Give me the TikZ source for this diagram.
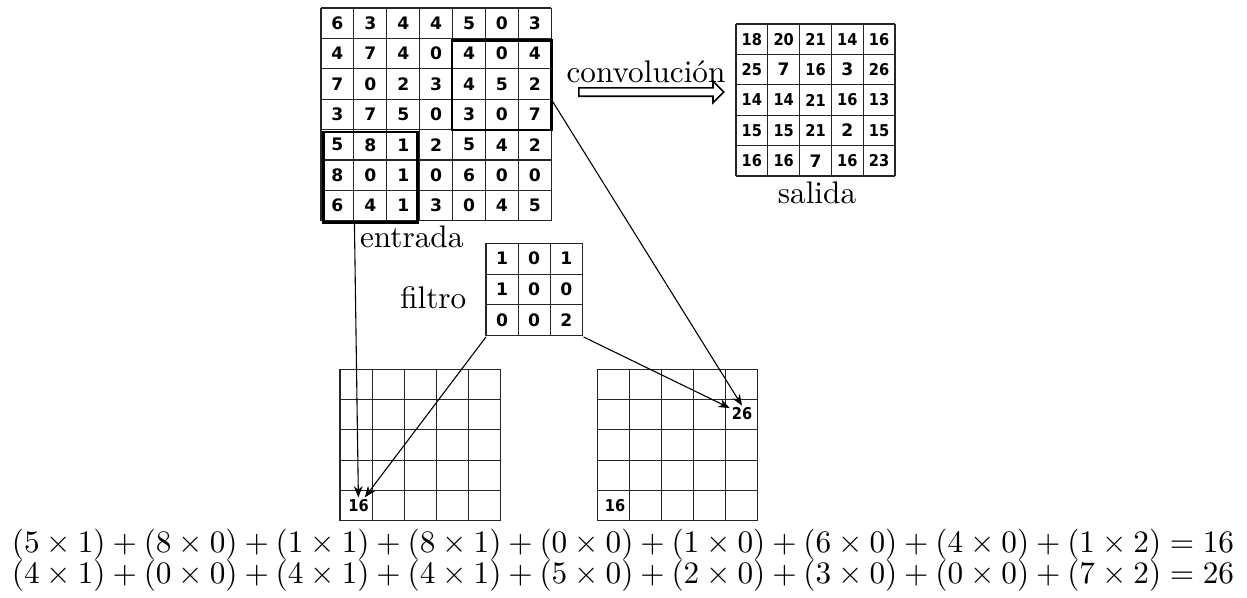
\documentclass[tikz,border=0pt]{standalone}
\usepackage{fontspec}
\newfontfamily\numfont{DejaVu Sans}
\newfontfamily\numfontc{DejaVu Sans}[FakeStretch=0.9]
\usetikzlibrary{calc,arrows.meta,shapes.arrows}
\def\px{0.32pt}
\newcommand{\mygrid}[6]{% x0, y0, cols, rows, w, h
  \foreach \i in {0,...,#3} \draw[gridline] ({#1+\i*#5},#2) -- ++(0,{#4*#6});
  \foreach \j in {0,...,#4} \draw[gridline] (#1,{#2+\j*#6}) -- ++({#3*#5},0);
}
\newcommand{\numtxt}[1]{\ifnum#1>9 \numfontc\bfseries\fontsize{5.2}{6}\selectfont\fi #1}
\begin{document}
\begin{tikzpicture}[x=0.32pt,y=-0.32pt,
  gridline/.style={line width=0.35pt, black!85},
  hbox/.style={draw, line width=0.9pt, inner sep=0pt, anchor=north west},
  num/.style={font=\numfont\bfseries\fontsize{5.5}{6}\selectfont, inner sep=0.5pt},
  lab/.style={font=\fontsize{10}{12}\selectfont, anchor=base, inner sep=0pt},
  conn/.style={line width=0.35pt, -{Stealth[length=3.6pt,width=2.8pt]}},
]
\useasboundingbox (0,0) rectangle (1247,598);

% input grid
\mygrid{321}{8}{7}{7}{32.9}{30.4}
\foreach \row [count=\r from 0] in {{6,3,4,4,5,0,3},{4,7,4,0,4,0,4},{7,0,2,3,4,5,2},{3,7,5,0,3,0,7},{5,8,1,2,5,4,2},{8,0,1,0,6,0,0},{6,4,1,3,0,4,5}}
  \foreach \v [count=\c from 0] in \row
    \node[num] (in-\r-\c) at ({321+(\c+0.5)*32.9},{8+(\r+0.5)*30.4}) {\v};
\node[hbox, minimum width={94*\px}, minimum height={90.2*\px}] (boxA) at (322,130.6) {};
\node[hbox, minimum width={99.5*\px}, minimum height={89.5*\px}] (boxB) at (450.5,39) {};
\node[lab] (entrada) at (411.7,247) {entrada};

% output grid
\mygrid{736}{24}{5}{5}{31.8}{30.4}
\foreach \row [count=\r from 0] in {{18,20,21,14,16},{25,7,16,3,26},{14,14,21,16,13},{15,15,21,2,15},{16,16,7,16,23}}
  \foreach \v [count=\c from 0] in \row
    \node[num] (out-\r-\c) at ({736+(\c+0.5)*31.8},{24+(\r+0.5)*30.4}) {\numtxt{\v}};
\node[lab] (salida) at (817,203) {salida};

% convolution arrow
\node[lab] (convlab) at (646,82.7) {convolución};
\node[single arrow, draw, line width=0.5pt, inner sep=1.1pt, minimum height={145*\px},
      single arrow head extend=2.1pt, single arrow head indent=0pt, anchor=west] (convarrow) at (578,92) {};

% filter
\mygrid{486}{243.3}{3}{3}{32.1}{30.8}
\foreach \row [count=\r from 0] in {{1,0,1},{1,0,0},{0,0,2}}
  \foreach \v [count=\c from 0] in \row
    \node[num] (f-\r-\c) at ({486+(\c+0.5)*32.1},{243.3+(\r+0.5)*30.8}) {\v};
\node[inner sep=0pt, minimum width={96.3*\px}, minimum height={92.4*\px}, anchor=north west] (filter) at (486,243.3) {};
\node[lab] (filtro) at (433.3,308.3) {filtro};

% bottom grids
\mygrid{340}{369.3}{5}{5}{32.1}{30.3}
\mygrid{597.7}{369.3}{5}{5}{31.9}{30.3}
\node[num] (l16) at (358.5,505.7) {\numtxt{16}};
\node[num] (rb16) at (615,505.7) {\numtxt{16}};
\node[num] (r26) at (742,414) {\numtxt{26}};

% connectors
\draw[conn] ($(boxA.south west)!0.335!(boxA.south east)$) -- (l16);
\draw[conn] (filter.south west) -- (l16);
\draw[conn] (filter.south east) -- (r26);
\draw[conn] ($(boxB.north east)!0.68!(boxB.south east)$) -- (r26.north);

% equations
\node[lab] (eq1) at (623,552.7) {$(5\times 1)+(8\times 0)+(1\times 1)+(8\times 1)+(0\times 0)+(1\times 0)+(6\times 0)+(4\times 0)+(1\times 2)=16$};
\node[lab] (eq2) at (623,583.3) {$(4\times 1)+(0\times 0)+(4\times 1)+(4\times 1)+(5\times 0)+(2\times 0)+(3\times 0)+(0\times 0)+(7\times 2)=26$};
\end{tikzpicture}
\end{document}
